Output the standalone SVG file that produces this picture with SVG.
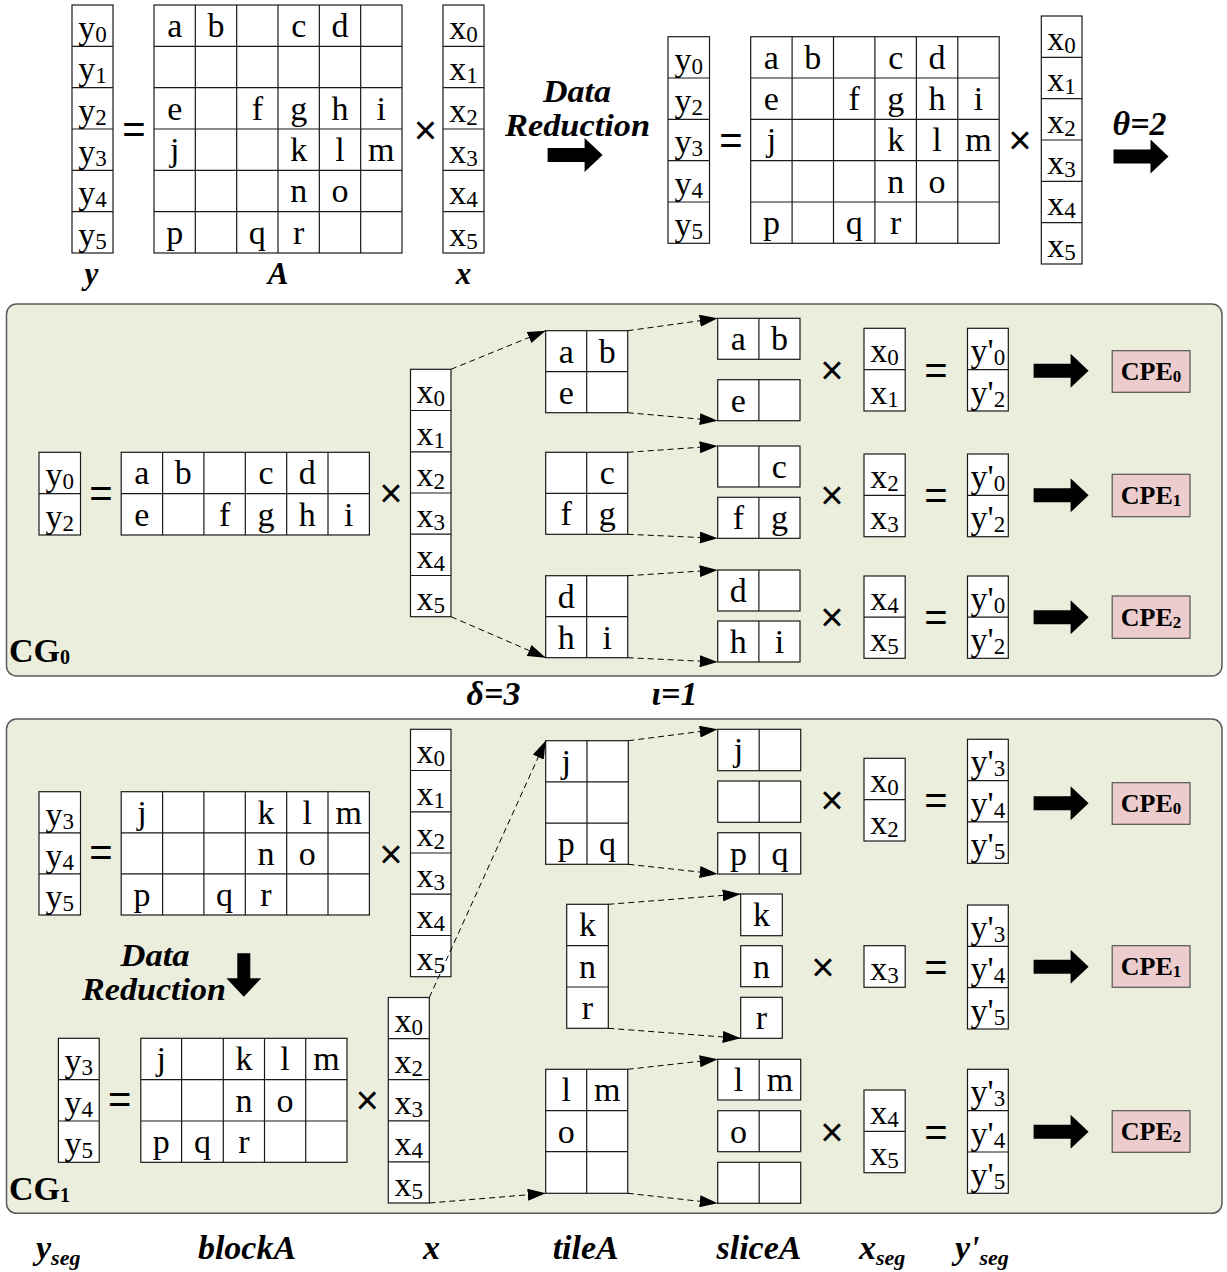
<svg xmlns="http://www.w3.org/2000/svg" xmlns:xlink="http://www.w3.org/1999/xlink" width="1227" height="1272" viewBox="0 0 1227 1272">
<defs>
<style>
.c{fill:#fff;stroke:#1a1a1a;stroke-width:1.2}
.g{fill:none;stroke:#1a1a1a;stroke-width:1.2}
.t{font-family:"Liberation Serif","Times New Roman",serif;font-size:34px;text-anchor:middle;fill:#000}
.s{font-size:23px}
.op{font-family:"Liberation Sans",Arial,sans-serif;font-size:40px;text-anchor:middle;fill:#000}
.lb{font-family:"Liberation Serif","Times New Roman",serif;font-weight:bold;font-style:italic;font-size:34px;text-anchor:middle;fill:#000}
.dr{font-family:"Liberation Serif","Times New Roman",serif;font-weight:bold;font-style:italic;font-size:31px;text-anchor:middle;fill:#000}
.bs{font-size:22px}
.panel{fill:#EBEEDD;stroke:#5a5a5a;stroke-width:1.5}
.cpe{fill:#ECCCCC;stroke:#555;stroke-width:1.2}
.cpet{font-family:"Liberation Serif","Times New Roman",serif;font-weight:bold;font-size:26px;text-anchor:middle;fill:#000}
.cs{font-size:17px}
.cg{font-family:"Liberation Serif","Times New Roman",serif;font-weight:bold;font-size:34px;fill:#000}
.cgs{font-size:20px}
.d{fill:none;stroke:#000;stroke-width:1;stroke-dasharray:6 4;marker-end:url(#ah)}
</style>
<marker id="ah" viewBox="0 0 18 12" refX="18" refY="6" markerWidth="18" markerHeight="12" markerUnits="userSpaceOnUse" orient="auto"><path d="M0,0L18,6L0,12Z" fill="#000"/></marker>
<path id="fat" d="M0,-7H37V-17L55,0L37,17V7H0Z" fill="#000"/>
</defs>

<!-- ===== TOP ===== -->
<g id="top-y">
<rect class="c" x="72" y="5" width="41" height="248"/>
<path class="g" d="M72,46.33H113M72,87.67H113M72,129H113M72,170.33H113M72,211.67H113"/>
<text class="t" x="92.5" y="39">y<tspan class="s" dy="3">0</tspan></text>
<text class="t" x="92.5" y="80.3">y<tspan class="s" dy="3">1</tspan></text>
<text class="t" x="92.5" y="121.7">y<tspan class="s" dy="3">2</tspan></text>
<text class="t" x="92.5" y="163">y<tspan class="s" dy="3">3</tspan></text>
<text class="t" x="92.5" y="204.3">y<tspan class="s" dy="3">4</tspan></text>
<text class="t" x="92.5" y="245.7">y<tspan class="s" dy="3">5</tspan></text>
</g>
<text class="op" x="134" y="143">=</text>
<g id="top-A">
<rect class="c" x="154" y="5" width="248" height="248"/>
<path class="g" d="M195.33,5V253M236.67,5V253M278,5V253M319.33,5V253M360.67,5V253M154,46.33H402M154,87.67H402M154,129H402M154,170.33H402M154,211.67H402"/>
<text class="t" x="174.7" y="37">a</text><text class="t" x="216" y="37">b</text><text class="t" x="298.7" y="37">c</text><text class="t" x="340" y="37">d</text>
<text class="t" x="174.7" y="119.7">e</text><text class="t" x="257.3" y="119.7">f</text><text class="t" x="298.7" y="119.7">g</text><text class="t" x="340" y="119.7">h</text><text class="t" x="381.3" y="119.7">i</text>
<text class="t" x="174.7" y="161">j</text><text class="t" x="298.7" y="161">k</text><text class="t" x="340" y="161">l</text><text class="t" x="381.3" y="161">m</text>
<text class="t" x="298.7" y="202.3">n</text><text class="t" x="340" y="202.3">o</text>
<text class="t" x="174.7" y="243.7">p</text><text class="t" x="257.3" y="243.7">q</text><text class="t" x="298.7" y="243.7">r</text>
</g>
<text class="op" x="425.5" y="144">×</text>
<g id="top-x">
<rect class="c" x="443" y="5" width="41" height="248"/>
<path class="g" d="M443,46.33H484M443,87.67H484M443,129H484M443,170.33H484M443,211.67H484"/>
<text class="t" x="463.5" y="39">x<tspan class="s" dy="3">0</tspan></text>
<text class="t" x="463.5" y="80.3">x<tspan class="s" dy="3">1</tspan></text>
<text class="t" x="463.5" y="121.7">x<tspan class="s" dy="3">2</tspan></text>
<text class="t" x="463.5" y="163">x<tspan class="s" dy="3">3</tspan></text>
<text class="t" x="463.5" y="204.3">x<tspan class="s" dy="3">4</tspan></text>
<text class="t" x="463.5" y="245.7">x<tspan class="s" dy="3">5</tspan></text>
</g>
<g id="top-labels">
<text class="lb" x="91.5" y="284" style="font-size:31px">y</text>
<text class="lb" x="278" y="284" style="font-size:31px">A</text>
<text class="lb" x="463.5" y="284" style="font-size:31px">x</text>
</g>
<g id="data-reduction-1">
<text class="dr" x="577" y="101.5" textLength="68" lengthAdjust="spacingAndGlyphs">Data</text>
<text class="dr" x="577.5" y="136" textLength="145" lengthAdjust="spacingAndGlyphs">Reduction</text>
<use xlink:href="#fat" href="#fat" x="547.6" y="155"/>
</g>
<g id="top-y2">
<rect class="c" x="668" y="36.7" width="41.5" height="206.6"/>
<path class="g" d="M668,78H709.5M668,119.3H709.5M668,160.7H709.5M668,202H709.5"/>
<text class="t" x="688.75" y="70.7">y<tspan class="s" dy="3">0</tspan></text>
<text class="t" x="688.75" y="112">y<tspan class="s" dy="3">2</tspan></text>
<text class="t" x="688.75" y="153.3">y<tspan class="s" dy="3">3</tspan></text>
<text class="t" x="688.75" y="194.7">y<tspan class="s" dy="3">4</tspan></text>
<text class="t" x="688.75" y="236">y<tspan class="s" dy="3">5</tspan></text>
</g>
<text class="op" x="731" y="154">=</text>
<g id="top-A2">
<rect class="c" x="750.7" y="36.7" width="248.5" height="206.6"/>
<path class="g" d="M792.1,36.7V243.3M833.5,36.7V243.3M874.9,36.7V243.3M916.4,36.7V243.3M957.8,36.7V243.3M750.7,78H999.2M750.7,119.3H999.2M750.7,160.7H999.2M750.7,202H999.2"/>
<text class="t" x="771.4" y="68.7">a</text><text class="t" x="812.8" y="68.7">b</text><text class="t" x="895.7" y="68.7">c</text><text class="t" x="937.1" y="68.7">d</text>
<text class="t" x="771.4" y="110">e</text><text class="t" x="854.2" y="110">f</text><text class="t" x="895.7" y="110">g</text><text class="t" x="937.1" y="110">h</text><text class="t" x="978.5" y="110">i</text>
<text class="t" x="771.4" y="151.3">j</text><text class="t" x="895.7" y="151.3">k</text><text class="t" x="937.1" y="151.3">l</text><text class="t" x="978.5" y="151.3">m</text>
<text class="t" x="895.7" y="192.7">n</text><text class="t" x="937.1" y="192.7">o</text>
<text class="t" x="771.4" y="234">p</text><text class="t" x="854.2" y="234">q</text><text class="t" x="895.7" y="234">r</text>
</g>
<text class="op" x="1020" y="154">×</text>
<g id="top-x2">
<rect class="c" x="1041.3" y="16" width="40.7" height="248"/>
<path class="g" d="M1041.3,57.3H1082M1041.3,98.7H1082M1041.3,140H1082M1041.3,181.3H1082M1041.3,222.7H1082"/>
<text class="t" x="1061.6" y="50">x<tspan class="s" dy="3">0</tspan></text>
<text class="t" x="1061.6" y="91.3">x<tspan class="s" dy="3">1</tspan></text>
<text class="t" x="1061.6" y="132.7">x<tspan class="s" dy="3">2</tspan></text>
<text class="t" x="1061.6" y="174">x<tspan class="s" dy="3">3</tspan></text>
<text class="t" x="1061.6" y="215.3">x<tspan class="s" dy="3">4</tspan></text>
<text class="t" x="1061.6" y="256.7">x<tspan class="s" dy="3">5</tspan></text>
</g>
<g id="theta">
<text class="lb" x="1139.5" y="135">θ=2</text>
<use xlink:href="#fat" href="#fat" x="1113.5" y="156.5"/>
</g>

<!-- ===== CG0 ===== -->
<g id="CG0">
<rect class="panel" x="6.5" y="304" width="1215.5" height="372" rx="10"/>
<text class="cg" x="9" y="662">CG<tspan class="cgs" dy="2">0</tspan></text>
</g>
<g id="cg0-y">
<rect class="c" x="39" y="452.3" width="41.5" height="82.7"/>
<path class="g" d="M39,493.7H80.5"/>
<text class="t" x="59.75" y="486.3">y<tspan class="s" dy="3">0</tspan></text>
<text class="t" x="59.75" y="527.7">y<tspan class="s" dy="3">2</tspan></text>
</g>
<text class="op" x="101" y="507">=</text>
<g id="cg0-blockA">
<rect class="c" x="121.2" y="452.3" width="248.2" height="82.7"/>
<path class="g" d="M162.6,452.3V535M203.9,452.3V535M245.3,452.3V535M286.7,452.3V535M328,452.3V535M121.2,493.7H369.4"/>
<text class="t" x="141.9" y="484.3">a</text><text class="t" x="183.2" y="484.3">b</text><text class="t" x="266" y="484.3">c</text><text class="t" x="307.3" y="484.3">d</text>
<text class="t" x="141.9" y="525.7">e</text><text class="t" x="224.6" y="525.7">f</text><text class="t" x="266" y="525.7">g</text><text class="t" x="307.3" y="525.7">h</text><text class="t" x="348.7" y="525.7">i</text>
</g>
<text class="op" x="391" y="507">×</text>
<g id="cg0-x">
<rect class="c" x="410.5" y="369.3" width="40.5" height="247.4"/>
<path class="g" d="M410.5,410.5H451M410.5,451.8H451M410.5,493H451M410.5,534.2H451M410.5,575.5H451"/>
<text class="t" x="430.75" y="403.3">x<tspan class="s" dy="3">0</tspan></text>
<text class="t" x="430.75" y="444.5">x<tspan class="s" dy="3">1</tspan></text>
<text class="t" x="430.75" y="485.8">x<tspan class="s" dy="3">2</tspan></text>
<text class="t" x="430.75" y="527">x<tspan class="s" dy="3">3</tspan></text>
<text class="t" x="430.75" y="568.2">x<tspan class="s" dy="3">4</tspan></text>
<text class="t" x="430.75" y="609.5">x<tspan class="s" dy="3">5</tspan></text>
</g>
<g id="cg0-tile0">
<rect class="c" x="545.7" y="330.7" width="82" height="82"/>
<path class="g" d="M586.7,330.7V412.7M545.7,371.7H627.7"/>
<text class="t" x="566.2" y="362.7">a</text><text class="t" x="607.2" y="362.7">b</text><text class="t" x="566.2" y="403.7">e</text>
</g>
<g id="cg0-tile1">
<rect class="c" x="545.7" y="452.3" width="82" height="82"/>
<path class="g" d="M586.7,452.3V534.3M545.7,493.3H627.7"/>
<text class="t" x="607.2" y="484.3">c</text><text class="t" x="566.2" y="525.3">f</text><text class="t" x="607.2" y="525.3">g</text>
</g>
<g id="cg0-tile2">
<rect class="c" x="545.7" y="575.7" width="82" height="82"/>
<path class="g" d="M586.7,575.7V657.7M545.7,616.7H627.7"/>
<text class="t" x="566.2" y="607.7">d</text><text class="t" x="566.2" y="648.7">h</text><text class="t" x="607.2" y="648.7">i</text>
</g>
<g id="cg0-slices">
<rect class="c" x="717.7" y="318.3" width="82.3" height="41"/><path class="g" d="M758.9,318.3V359.3"/>
<text class="t" x="738.3" y="350.3">a</text><text class="t" x="779.4" y="350.3">b</text>
<rect class="c" x="717.7" y="379.7" width="82.3" height="41"/><path class="g" d="M758.9,379.7V420.7"/>
<text class="t" x="738.3" y="411.7">e</text>
<rect class="c" x="717.7" y="446" width="82.3" height="41"/><path class="g" d="M758.9,446V487"/>
<text class="t" x="779.4" y="478">c</text>
<rect class="c" x="717.7" y="497.3" width="82.3" height="41"/><path class="g" d="M758.9,497.3V538.3"/>
<text class="t" x="738.3" y="529.3">f</text><text class="t" x="779.4" y="529.3">g</text>
<rect class="c" x="717.7" y="570" width="82.3" height="41"/><path class="g" d="M758.9,570V611"/>
<text class="t" x="738.3" y="602">d</text>
<rect class="c" x="717.7" y="621" width="82.3" height="41"/><path class="g" d="M758.9,621V662"/>
<text class="t" x="738.3" y="653">h</text><text class="t" x="779.4" y="653">i</text>
</g>
<g id="cg0-ops">
<text class="op" x="832" y="384">×</text><text class="op" x="832" y="509">×</text><text class="op" x="832" y="630.7">×</text>
<text class="op" x="936" y="384">=</text><text class="op" x="936" y="509">=</text><text class="op" x="936" y="630.7">=</text>
</g>
<g id="cg0-xseg">
<rect class="c" x="864" y="328.3" width="41.2" height="82.7"/><path class="g" d="M864,369.7H905.2"/>
<text class="t" x="884.6" y="362.3">x<tspan class="s" dy="3">0</tspan></text><text class="t" x="884.6" y="403.7">x<tspan class="s" dy="3">1</tspan></text>
<rect class="c" x="864" y="454" width="41.2" height="82.7"/><path class="g" d="M864,495.3H905.2"/>
<text class="t" x="884.6" y="488">x<tspan class="s" dy="3">2</tspan></text><text class="t" x="884.6" y="529.3">x<tspan class="s" dy="3">3</tspan></text>
<rect class="c" x="864" y="576" width="41.2" height="82.3"/><path class="g" d="M864,617.2H905.2"/>
<text class="t" x="884.6" y="610">x<tspan class="s" dy="3">4</tspan></text><text class="t" x="884.6" y="651.2">x<tspan class="s" dy="3">5</tspan></text>
</g>
<g id="cg0-yseg">
<rect class="c" x="967.5" y="328.3" width="40.8" height="82.7"/><path class="g" d="M967.5,369.7H1008.3"/>
<text class="t" x="987.9" y="362.3">y'<tspan class="s" dy="3">0</tspan></text><text class="t" x="987.9" y="403.7">y'<tspan class="s" dy="3">2</tspan></text>
<rect class="c" x="967.5" y="454" width="40.8" height="82.7"/><path class="g" d="M967.5,495.3H1008.3"/>
<text class="t" x="987.9" y="488">y'<tspan class="s" dy="3">0</tspan></text><text class="t" x="987.9" y="529.3">y'<tspan class="s" dy="3">2</tspan></text>
<rect class="c" x="967.5" y="576" width="40.8" height="82.3"/><path class="g" d="M967.5,617.2H1008.3"/>
<text class="t" x="987.9" y="610">y'<tspan class="s" dy="3">0</tspan></text><text class="t" x="987.9" y="651.2">y'<tspan class="s" dy="3">2</tspan></text>
</g>
<g id="cg0-cpe">
<use xlink:href="#fat" href="#fat" x="1033.6" y="370.8"/>
<use xlink:href="#fat" href="#fat" x="1033.6" y="495.3"/>
<use xlink:href="#fat" href="#fat" x="1033.6" y="617.2"/>
<rect class="cpe" x="1112.2" y="350.7" width="77.8" height="41.6"/>
<text class="cpet" x="1151" y="380">CPE<tspan class="cs" dy="2">0</tspan></text>
<rect class="cpe" x="1112.2" y="474.3" width="77.8" height="42.4"/>
<text class="cpet" x="1151" y="504">CPE<tspan class="cs" dy="2">1</tspan></text>
<rect class="cpe" x="1112.2" y="596" width="77.8" height="42.3"/>
<text class="cpet" x="1151" y="626">CPE<tspan class="cs" dy="2">2</tspan></text>
</g>
<g id="params">
<text class="lb" x="493.5" y="705">δ=3</text>
<text class="lb" x="674.5" y="705">ι=1</text>
</g>

<!-- ===== CG1 ===== -->
<g id="CG1">
<rect class="panel" x="6.5" y="719" width="1215.5" height="494.3" rx="10"/>
<text class="cg" x="9" y="1200">CG<tspan class="cgs" dy="2">1</tspan></text>
</g>
<g id="cg1-y">
<rect class="c" x="39" y="791.7" width="41.5" height="123.3"/>
<path class="g" d="M39,832.8H80.5M39,873.9H80.5"/>
<text class="t" x="59.75" y="825.7">y<tspan class="s" dy="3">3</tspan></text>
<text class="t" x="59.75" y="866.8">y<tspan class="s" dy="3">4</tspan></text>
<text class="t" x="59.75" y="907.9">y<tspan class="s" dy="3">5</tspan></text>
</g>
<text class="op" x="101" y="866.3">=</text>
<g id="cg1-blockA">
<rect class="c" x="121.2" y="791.7" width="248.2" height="123.3"/>
<path class="g" d="M162.6,791.7V915M203.9,791.7V915M245.3,791.7V915M286.7,791.7V915M328,791.7V915M121.2,832.8H369.4M121.2,873.9H369.4"/>
<text class="t" x="141.9" y="823.7">j</text><text class="t" x="266" y="823.7">k</text><text class="t" x="307.3" y="823.7">l</text><text class="t" x="348.7" y="823.7">m</text>
<text class="t" x="266" y="864.8">n</text><text class="t" x="307.3" y="864.8">o</text>
<text class="t" x="141.9" y="905.9">p</text><text class="t" x="224.6" y="905.9">q</text><text class="t" x="266" y="905.9">r</text>
</g>
<text class="op" x="391" y="868">×</text>
<g id="cg1-x">
<rect class="c" x="410.5" y="729.3" width="40.5" height="247.4"/>
<path class="g" d="M410.5,770.5H451M410.5,811.8H451M410.5,853H451M410.5,894.2H451M410.5,935.5H451"/>
<text class="t" x="430.75" y="763.3">x<tspan class="s" dy="3">0</tspan></text>
<text class="t" x="430.75" y="804.5">x<tspan class="s" dy="3">1</tspan></text>
<text class="t" x="430.75" y="845.8">x<tspan class="s" dy="3">2</tspan></text>
<text class="t" x="430.75" y="887">x<tspan class="s" dy="3">3</tspan></text>
<text class="t" x="430.75" y="928.2">x<tspan class="s" dy="3">4</tspan></text>
<text class="t" x="430.75" y="969.5">x<tspan class="s" dy="3">5</tspan></text>
</g>
<g id="data-reduction-2">
<text class="dr" x="155" y="965.5" textLength="69" lengthAdjust="spacingAndGlyphs">Data</text>
<text class="dr" x="154" y="1000" textLength="144" lengthAdjust="spacingAndGlyphs">Reduction</text>
<path d="M237.3,953.3H250.3V978.3H261.2L243.8,996.7L226.4,978.3H237.3Z" fill="#000"/>
</g>
<g id="cg1-y-red">
<rect class="c" x="58.4" y="1038.3" width="40.8" height="124"/>
<path class="g" d="M58.4,1079.6H99.2M58.4,1121H99.2"/>
<text class="t" x="78.8" y="1072.3">y<tspan class="s" dy="3">3</tspan></text>
<text class="t" x="78.8" y="1113.6">y<tspan class="s" dy="3">4</tspan></text>
<text class="t" x="78.8" y="1155">y<tspan class="s" dy="3">5</tspan></text>
</g>
<text class="op" x="119.6" y="1113.3">=</text>
<g id="cg1-blockA-red">
<rect class="c" x="140.8" y="1038.3" width="206.2" height="124"/>
<path class="g" d="M181.6,1038.3V1162.3M223.3,1038.3V1162.3M264.5,1038.3V1162.3M305.7,1038.3V1162.3M140.8,1079.6H347M140.8,1121H347"/>
<text class="t" x="161.2" y="1070.3">j</text><text class="t" x="243.9" y="1070.3">k</text><text class="t" x="285.1" y="1070.3">l</text><text class="t" x="326.4" y="1070.3">m</text>
<text class="t" x="243.9" y="1111.6">n</text><text class="t" x="285.1" y="1111.6">o</text>
<text class="t" x="161.2" y="1153">p</text><text class="t" x="202.5" y="1153">q</text><text class="t" x="243.9" y="1153">r</text>
</g>
<text class="op" x="367.3" y="1114">×</text>
<g id="cg1-x-red">
<rect class="c" x="388.3" y="997.5" width="41" height="205.5"/>
<path class="g" d="M388.3,1038.6H429.3M388.3,1079.7H429.3M388.3,1120.8H429.3M388.3,1161.9H429.3"/>
<text class="t" x="408.8" y="1031.5">x<tspan class="s" dy="3">0</tspan></text>
<text class="t" x="408.8" y="1072.6">x<tspan class="s" dy="3">2</tspan></text>
<text class="t" x="408.8" y="1113.7">x<tspan class="s" dy="3">3</tspan></text>
<text class="t" x="408.8" y="1154.8">x<tspan class="s" dy="3">4</tspan></text>
<text class="t" x="408.8" y="1195.9">x<tspan class="s" dy="3">5</tspan></text>
</g>
<g id="cg1-tile0">
<rect class="c" x="545.7" y="740.7" width="82.6" height="123.6"/>
<path class="g" d="M587,740.7V864.3M545.7,781.9H628.3M545.7,823.1H628.3"/>
<text class="t" x="566.3" y="772.7">j</text><text class="t" x="566.3" y="855.1">p</text><text class="t" x="607.6" y="855.1">q</text>
</g>
<g id="cg1-tile1">
<rect class="c" x="566.7" y="904.3" width="41.6" height="124"/>
<path class="g" d="M566.7,945.6H608.3M566.7,987H608.3"/>
<text class="t" x="587.5" y="936.3">k</text><text class="t" x="587.5" y="977.6">n</text><text class="t" x="587.5" y="1019">r</text>
</g>
<g id="cg1-tile2">
<rect class="c" x="545.7" y="1069.3" width="82" height="124"/>
<path class="g" d="M586.7,1069.3V1193.3M545.7,1110.7H627.7M545.7,1151.7H627.7"/>
<text class="t" x="566.2" y="1101.3">l</text><text class="t" x="607.2" y="1101.3">m</text><text class="t" x="566.2" y="1142.7">o</text>
</g>
<g id="cg1-slices0">
<rect class="c" x="717.7" y="729.3" width="83" height="41.4"/><path class="g" d="M759.2,729.3V770.7"/>
<text class="t" x="738.4" y="761.3">j</text>
<rect class="c" x="717.7" y="781" width="83" height="41.3"/><path class="g" d="M759.2,781V822.3"/>
<rect class="c" x="717.7" y="832.7" width="83" height="41.3"/><path class="g" d="M759.2,832.7V874"/>
<text class="t" x="738.4" y="864.7">p</text><text class="t" x="780" y="864.7">q</text>
</g>
<g id="cg1-slices1">
<rect class="c" x="740.7" y="894" width="41.6" height="41.7"/><text class="t" x="761.5" y="926">k</text>
<rect class="c" x="740.7" y="945.7" width="41.6" height="41"/><text class="t" x="761.5" y="977.7">n</text>
<rect class="c" x="740.7" y="997.3" width="41.6" height="41"/><text class="t" x="761.5" y="1029.3">r</text>
</g>
<g id="cg1-slices2">
<rect class="c" x="717.7" y="1059.3" width="83" height="40.7"/><path class="g" d="M759.2,1059.3V1100"/>
<text class="t" x="738.4" y="1091.3">l</text><text class="t" x="780" y="1091.3">m</text>
<rect class="c" x="717.7" y="1110.7" width="83" height="41"/><path class="g" d="M759.2,1110.7V1151.7"/>
<text class="t" x="738.4" y="1142.7">o</text>
<rect class="c" x="717.7" y="1162.3" width="83" height="41"/><path class="g" d="M759.2,1162.3V1203.3"/>
</g>
<g id="cg1-ops">
<text class="op" x="832" y="814">×</text><text class="op" x="823" y="980.7">×</text><text class="op" x="832" y="1145.7">×</text>
<text class="op" x="936" y="814">=</text><text class="op" x="936" y="980.7">=</text><text class="op" x="936" y="1145.7">=</text>
</g>
<g id="cg1-xseg">
<rect class="c" x="864" y="758.3" width="41.2" height="82.7"/><path class="g" d="M864,799.7H905.2"/>
<text class="t" x="884.6" y="792.3">x<tspan class="s" dy="3">0</tspan></text><text class="t" x="884.6" y="833.7">x<tspan class="s" dy="3">2</tspan></text>
<rect class="c" x="864" y="945.7" width="41.2" height="41.6"/>
<text class="t" x="884.6" y="979.7">x<tspan class="s" dy="3">3</tspan></text>
<rect class="c" x="864" y="1090" width="41.2" height="82.7"/><path class="g" d="M864,1131.3H905.2"/>
<text class="t" x="884.6" y="1124">x<tspan class="s" dy="3">4</tspan></text><text class="t" x="884.6" y="1165.3">x<tspan class="s" dy="3">5</tspan></text>
</g>
<g id="cg1-yseg">
<rect class="c" x="967.5" y="739.3" width="40.8" height="124"/><path class="g" d="M967.5,780.6H1008.3M967.5,821.9H1008.3"/>
<text class="t" x="987.9" y="773.3">y'<tspan class="s" dy="3">3</tspan></text><text class="t" x="987.9" y="814.6">y'<tspan class="s" dy="3">4</tspan></text><text class="t" x="987.9" y="855.9">y'<tspan class="s" dy="3">5</tspan></text>
<rect class="c" x="967.5" y="905" width="40.8" height="124"/><path class="g" d="M967.5,946.3H1008.3M967.5,987.7H1008.3"/>
<text class="t" x="987.9" y="939">y'<tspan class="s" dy="3">3</tspan></text><text class="t" x="987.9" y="980.3">y'<tspan class="s" dy="3">4</tspan></text><text class="t" x="987.9" y="1021.7">y'<tspan class="s" dy="3">5</tspan></text>
<rect class="c" x="967.5" y="1069.3" width="40.8" height="124"/><path class="g" d="M967.5,1110.7H1008.3M967.5,1152H1008.3"/>
<text class="t" x="987.9" y="1103.3">y'<tspan class="s" dy="3">3</tspan></text><text class="t" x="987.9" y="1144.7">y'<tspan class="s" dy="3">4</tspan></text><text class="t" x="987.9" y="1186">y'<tspan class="s" dy="3">5</tspan></text>
</g>
<g id="cg1-cpe">
<use xlink:href="#fat" href="#fat" x="1033.6" y="803.3"/>
<use xlink:href="#fat" href="#fat" x="1033.6" y="966.7"/>
<use xlink:href="#fat" href="#fat" x="1033.6" y="1131.7"/>
<rect class="cpe" x="1112.2" y="782.7" width="77.8" height="41.6"/>
<text class="cpet" x="1151" y="812">CPE<tspan class="cs" dy="2">0</tspan></text>
<rect class="cpe" x="1112.2" y="945.7" width="77.8" height="41.6"/>
<text class="cpet" x="1151" y="975">CPE<tspan class="cs" dy="2">1</tspan></text>
<rect class="cpe" x="1112.2" y="1110.7" width="77.8" height="41.6"/>
<text class="cpet" x="1151" y="1140">CPE<tspan class="cs" dy="2">2</tspan></text>
</g>

<!-- ===== bottom labels ===== -->
<g id="bottom-labels">
<text class="lb" x="36" y="1259" style="text-anchor:start">y<tspan class="bs" dy="6">seg</tspan></text>
<text class="lb" x="247" y="1259">blockA</text>
<text class="lb" x="431.6" y="1259">x</text>
<text class="lb" x="585.7" y="1259">tileA</text>
<text class="lb" x="759" y="1259">sliceA</text>
<text class="lb" x="859" y="1259" style="text-anchor:start">x<tspan class="bs" dy="6">seg</tspan></text>
<text class="lb" x="955" y="1259" style="text-anchor:start">y'<tspan class="bs" dy="6">seg</tspan></text>
</g>

<!-- ===== connectors ===== -->
<g id="connectors">
<path class="d" d="M451,369.3L545.7,330.7"/>
<path class="d" d="M451,616.7L545.7,657.7"/>
<path class="d" d="M627.7,330.7L717.7,318.3"/>
<path class="d" d="M627.7,412.7L717.7,420.7"/>
<path class="d" d="M627.7,452.3L717.7,446"/>
<path class="d" d="M627.7,534.3L717.7,538.3"/>
<path class="d" d="M627.7,575.7L717.7,570"/>
<path class="d" d="M627.7,657.7L717.7,662"/>
<path class="d" d="M429.3,997.5L545.7,740.7"/>
<path class="d" d="M429.3,1203L545.7,1193.3"/>
<path class="d" d="M628.3,740.7L717.7,729.3"/>
<path class="d" d="M628.3,864.3L717.7,874"/>
<path class="d" d="M608.3,904.3L740.7,894"/>
<path class="d" d="M608.3,1028.3L740.7,1038.3"/>
<path class="d" d="M627.7,1069.3L717.7,1059.3"/>
<path class="d" d="M627.7,1193.3L717.7,1203.3"/>
</g>
</svg>
